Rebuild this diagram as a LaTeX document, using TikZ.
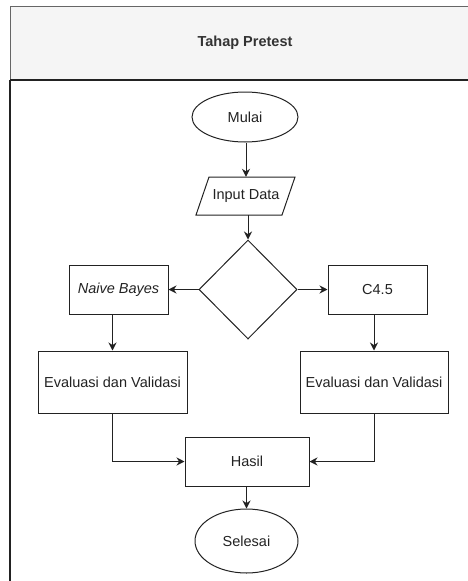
\documentclass[tikz,border=0pt]{standalone}
\usepackage{fontspec}
\setmainfont{Liberation Sans}
\usetikzlibrary{shapes.geometric,arrows.meta}
\definecolor{hdrfill}{HTML}{F5F5F5}
\definecolor{hdrline}{HTML}{666666}
\definecolor{txt}{HTML}{222222}
\definecolor{ln}{HTML}{222222}
\begin{document}
\begin{tikzpicture}[x=1pt,y=-1pt,
  every node/.style={font=\fontsize{14.5}{17}\selectfont, text=txt, inner sep=0pt},
  box/.style={draw=ln, line width=1pt, rectangle},
  oval/.style={draw=ln, line width=1pt, ellipse},
  dia/.style={draw=ln, line width=1pt, diamond, aspect=1},
  arr/.style={draw=ln, line width=1pt, -{Stealth[length=8pt,width=8pt]}}
]
\useasboundingbox (0,0) rectangle (468,581);
% swimlane frame
\fill[hdrfill] (10,6) rectangle (470,80);
\draw[hdrline, line width=1pt] (470,6) -- (10,6) -- (10,80);
\draw[ln, line width=1.2pt] (10,80) -- (470,80);
\draw[ln, line width=1.2pt] (10,80) -- (10,583);
\node[font=\bfseries\fontsize{14.5}{17}\selectfont, text=black!80] (title) at (245,43) {Tahap Pretest};

% nodes
\node[oval, minimum width=106pt, minimum height=50pt] (mulai) at (245,117) {Mulai};
\node[minimum width=98pt, minimum height=38pt] (input) at (246,196) {Input Data};
\draw[ln, line width=1pt] (196,215) -- (209,177) -- (295,177) -- (282,215) -- cycle;
\node[dia, minimum width=98pt, minimum height=99pt] (dec) at (248,289.5) {};
\node[box, minimum width=99pt, minimum height=49pt, font=\itshape\fontsize{14.5}{17}\selectfont] (nb) at (118.5,289.5) {Naive Bayes};
\node[box, minimum width=99pt, minimum height=49pt] (c45) at (377.5,289.5) {C4.5};
\node[box, minimum width=149pt, minimum height=62pt] (evl) at (112.5,382) {Evaluasi dan Validasi};
\node[box, minimum width=148pt, minimum height=62pt] (evr) at (374,382) {Evaluasi dan Validasi};
\node[box, minimum width=124pt, minimum height=49pt] (hasil) at (247,461.5) {Hasil};
\node[oval, minimum width=103pt, minimum height=64pt] (selesai) at (246.5,541) {Selesai};

% connectors
\draw[arr] (input.north |- mulai.south) -- (input.north);
\draw[arr] (dec.north |- input.south) -- (dec.north);
\draw[arr] (dec.west) -- (nb.east);
\draw[arr] (dec.east) -- (c45.east -| c45.west);
\draw[arr] (evl.north |- nb.south) -- (evl.north);
\draw[arr] (evr.north |- c45.south) -- (evr.north);
\draw[arr] (evl.south) |- (hasil.west);
\draw[arr] (evr.south) |- (hasil.east);
\draw[arr] (selesai.north |- hasil.south) -- (selesai.north);
\end{tikzpicture}
\end{document}
